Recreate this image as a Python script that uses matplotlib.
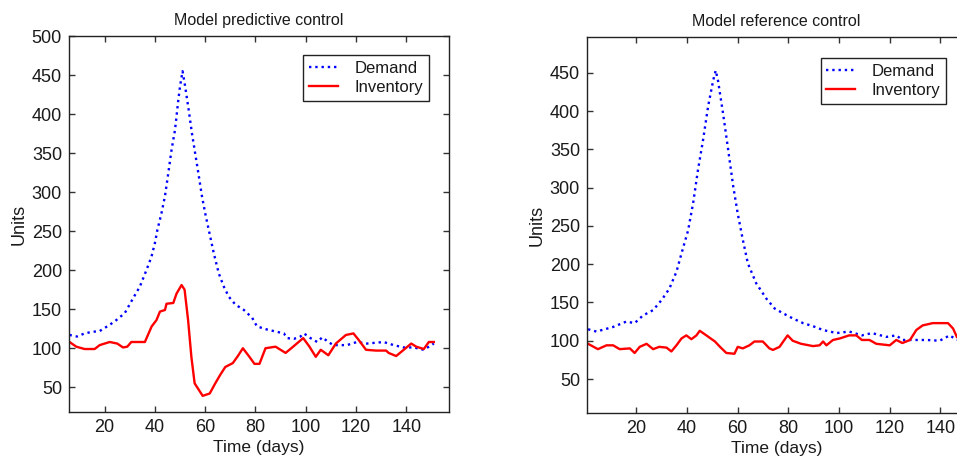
import numpy as np
import matplotlib
matplotlib.use("Agg")
import matplotlib.pyplot as plt

plt.rcParams['font.family'] = ['Liberation Sans', 'DejaVu Sans']

# ---- left panel: model predictive control ----
mpc_dem_day = [6, 9, 12, 15, 18, 22, 24.6, 28, 31.3, 34, 36.6, 38.6, 40, 41, 42.6, 44, 45.3,
               46.6, 48, 49.3, 50, 51, 52, 53.4, 54.7, 56, 57.3, 58.7, 60, 61.4, 63.4, 65.4,
               67.4, 69.4, 72, 75.4, 78.7, 80.6, 84.6, 88.6, 91.3, 92.6, 95.3, 97.9, 99.3,
               101.9, 104.6, 106.6, 109, 111, 116.4, 120.4, 124.4, 131, 135, 139, 143, 147, 151]
mpc_dem_val = [117, 115, 119, 121, 122, 130, 136, 145, 164, 179, 200, 217, 235, 252, 273, 295, 324,
               354, 380, 418, 436, 455, 436, 406, 376, 350, 324, 295, 273, 252, 222, 196,
               179, 166, 156, 149, 139, 128, 124, 121, 119, 113, 112, 115, 119,
               113, 108, 114, 108, 104, 104, 108, 106, 108, 104, 101, 101, 98, 106]

mpc_inv_day = [6, 8.7, 12, 16, 18, 22, 25, 27.3, 29, 30.6, 36, 38.7, 40.6, 42, 44, 44.6, 47.3,
               48.6, 50.6, 51.8, 53.2, 54.5, 55.8, 58, 59, 61.8, 64, 66, 68, 71, 73, 75, 77.6,
               79.6, 81.6, 84, 88, 90, 92, 95, 99, 101.5, 104, 106, 109, 112, 116, 119, 121,
               124, 128, 132, 133, 136, 139, 142, 144, 147, 149, 151]
mpc_inv_val = [108, 102, 99, 99, 104, 108, 106, 101, 102, 108, 108, 128, 136, 147, 149, 157, 158,
               170, 181, 175, 136, 89, 55, 44, 39, 42, 55, 66, 76, 81, 90, 100, 89,
               80, 80, 100, 102, 98, 94, 102, 113, 102, 89, 98, 91, 106, 117, 119, 111,
               98, 97, 97, 94, 90, 98, 106, 102, 99, 108, 108]

# ---- right panel: model reference control ----
mrc_dem_day = [0.9, 4.2, 10.8, 16, 19.3, 22.6, 26.6, 29.9, 33, 35.8, 37.8, 40.4, 42.4, 44.3,
               46.3, 48.3, 50.3, 51.3, 52.2, 54.2, 56.2, 58.2, 60, 62, 64, 67.3, 71.3, 74.6,
               77.8, 81.8, 85.8, 89.7, 93.7, 99, 104, 109, 113, 118.7, 122.6, 125, 129, 134.5,
               139.7, 143.7, 146.5]
mrc_dem_val = [115, 112, 118, 125, 123, 133, 140, 153, 168, 190, 214, 244, 280, 323,
               362, 406, 440, 453, 440, 397, 350, 302, 266, 232, 201, 175, 155, 142,
               136, 129, 123, 119, 114, 110, 112, 107, 110, 105, 107, 101, 101, 101,
               100, 107, 101]

mrc_inv_day = [0.9, 4.8, 8.2, 10.8, 13.4, 17.4, 19.3, 21.3, 24, 26.6, 29, 31.9, 33.8, 35.8,
               37.8, 39.7, 41.7, 43.7, 45, 47.6, 51, 53, 55.5, 58.7, 60, 62, 64.6, 66.6,
               69.9, 72.5, 73.9, 76.5, 78.4, 79.7, 81.7, 85, 89.7, 92.3, 93.7, 95, 97.6,
               100.3, 104, 106.8, 109, 112, 114.7, 120, 122.6, 125, 128, 130.5, 133, 137,
               139.7, 143, 145, 146.5]
mrc_inv_val = [96, 89, 94, 94, 89, 90, 84, 92, 96, 89, 92, 91, 86, 94,
               103, 107, 102, 107, 113, 107, 99, 92, 84, 83, 92, 90, 94, 99,
               99, 90, 88, 92, 101, 107, 100, 96, 93, 94, 99, 94, 101,
               103, 107, 107, 101, 101, 96, 94, 101, 97, 101, 114, 120, 123,
               123, 123, 116, 105]

fig = plt.figure(figsize=(9.57, 4.59), dpi=100)
ax1 = fig.add_axes([0.0721, 0.1024, 0.397, 0.819])
ax2 = fig.add_axes([0.6134, 0.1002, 0.3957, 0.819])

panels = [
    (ax1, "Model predictive control", mpc_dem_day, mpc_dem_val, mpc_inv_day, mpc_inv_val,
     (5.8, 157), (18.3, 500), [50, 100, 150, 200, 250, 300, 350, 400, 450, 500], (0.947, 0.949)),
    (ax2, "Model reference control", mrc_dem_day, mrc_dem_val, mrc_inv_day, mrc_inv_val,
     (0.5, 150), (5.6, 496.6), [50, 100, 150, 200, 250, 300, 350, 400, 450], (0.948, 0.944)),
]

txt = '#1a1a1a'
for ax, title, dd, dv, idy, iv, xl, yl, yt, leg_anchor in panels:
    ax.plot(dd, dv, color='#0000ff', linestyle=':', linewidth=1.7, label='Demand')
    ax.plot(idy, iv, color='#ff0000', linestyle='-', linewidth=1.7, label='Inventory')
    ax.set_xlim(*xl)
    ax.set_ylim(*yl)
    ax.set_xticks([20, 40, 60, 80, 100, 120, 140])
    ax.set_yticks(yt)
    ax.tick_params(direction='in', top=True, right=True, length=4, width=1,
                   color='#333333', labelsize=13, pad=5, labelcolor=txt)
    for s in ax.spines.values():
        s.set_linewidth(1.0)
        s.set_color('#222222')
    ax.set_title(title, fontsize=11.5, pad=8, color=txt)
    ax.set_xlabel("Time (days)", fontsize=12.5, labelpad=3, color=txt)
    ax.set_ylabel("Units", fontsize=13, labelpad=3, color=txt)
    leg = ax.legend(loc='upper right', bbox_to_anchor=leg_anchor, fontsize=12,
                    fancybox=False, framealpha=1, edgecolor='#222222',
                    handlelength=1.7, borderpad=0.35, labelspacing=0.25,
                    handletextpad=1.0, borderaxespad=0)
    for t in leg.get_texts():
        t.set_color(txt)
    leg.get_frame().set_linewidth(1.0)

fig.savefig("out.png", dpi=100)
